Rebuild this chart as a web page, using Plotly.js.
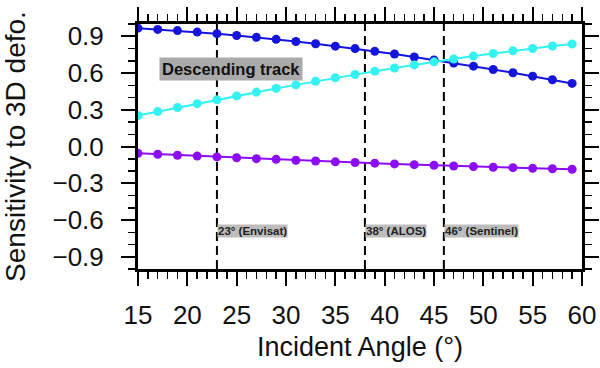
<!DOCTYPE html>
<html>
<head>
<meta charset="utf-8">
<script src="https://cdn.plot.ly/plotly-3.0.1.min.js"></script>
<style>html,body{margin:0;padding:0;background:#fff}#chart{width:600px;height:368px}</style>
</head>
<body>
<div id="chart"></div>
<script>
// Incident angles (degrees)
const angles = [15,17,19,21,23,25,27,29,31,33,35,37,39,41,43,45,47,49,51,53,55,57,59];
// Sensitivity series
const upValues = [0.966,0.956,0.946,0.934,0.921,0.906,0.891,0.875,0.857,0.839,0.819,0.799,0.777,0.755,0.731,0.707,0.682,0.656,0.629,0.602,0.574,0.545,0.515];
const eastValues = [0.253,0.285,0.318,0.350,0.382,0.413,0.444,0.474,0.503,0.532,0.561,0.588,0.615,0.641,0.666,0.691,0.714,0.738,0.759,0.781,0.800,0.820,0.837];
const northValues = [-0.056,-0.063,-0.071,-0.078,-0.085,-0.092,-0.099,-0.105,-0.112,-0.118,-0.125,-0.131,-0.136,-0.142,-0.148,-0.153,-0.159,-0.164,-0.169,-0.173,-0.178,-0.182,-0.186];
// Satellite reference angles
const satAngles = [23, 38, 46];
const satNames = ['Envisat', 'ALOS', 'Sentinel'];
const trackLabel = 'Descending track';

const font = 'Liberation Sans, Arial, Helvetica, sans-serif';
const xRange = [15, 60], yRange = [-1, 1], xMajor = 5, xMinorStep = 1;

function series(y, color) {
  return {
    x: angles, y: y, type: 'scatter', mode: 'lines+markers',
    line: {color: color, width: 2},
    marker: {color: color, size: 9},
    hoverinfo: 'none', showlegend: false
  };
}

// top-edge tick marks (axis decoration), drawn as unclipped vertical-line markers
const plotHeightPx = 245;
const pxPerUnit = plotHeightPx / (yRange[1] - yRange[0]);
const majorX = [], minorX = [];
for (let v = xRange[0]; v <= xRange[1]; v += xMinorStep) {
  ((v - xRange[0]) % xMajor === 0 ? majorX : minorX).push(v);
}
function topTicks(xs, len, width) {
  return {
    x: xs, y: xs.map(() => yRange[1] + (1.5 + len / 2) / pxPerUnit),
    type: 'scatter', mode: 'markers', cliponaxis: false,
    marker: {symbol: 'line-ns', size: len, color: '#000', line: {color: '#000', width: width}},
    hoverinfo: 'none', showlegend: false
  };
}

const data = [
  series(upValues, '#1414dc'),
  series(eastValues, '#33f2f2'),
  series(northValues, '#8c0cf5'),
  topTicks(majorX, 14, 2),
  topTicks(minorX, 7, 1.5)
];

const shapes = satAngles.map(a => ({
  type: 'line', xref: 'x', yref: 'paper', x0: a, x1: a, y0: 0, y1: 1,
  line: {color: '#000', width: 2, dash: '9px,5px'}, layer: 'below'
}));

const annotations = satAngles.map((a, i) => ({
  x: a, y: -0.686, xref: 'x', yref: 'y', xanchor: 'left', yanchor: 'middle',
  text: '<b>' + a + '° (' + satNames[i] + ')</b>', showarrow: false,
  font: {family: font, size: 11.5, color: '#222'},
  bgcolor: '#bdbdbd', borderpad: 0
}));
annotations.push({
  x: 24.4, y: 0.635, xref: 'x', yref: 'y', xanchor: 'center', yanchor: 'middle',
  text: '<b>' + trackLabel + '</b>', showarrow: false,
  font: {family: font, size: 16.5, color: '#111'},
  bgcolor: '#aaaaaa', borderpad: 2
});

const axisCommon = {
  showline: true, linecolor: '#000', linewidth: 3,
  ticks: 'outside', ticklen: 14, tickwidth: 2, tickcolor: '#000',
  showgrid: false, zeroline: false,
  tickfont: {family: font, size: 26, color: '#111'}
};

const layout = {
  width: 600, height: 368,
  margin: {l: 138, r: 18, t: 24, b: 99},
  paper_bgcolor: '#fff', plot_bgcolor: '#fff',
  font: {family: font},
  xaxis: Object.assign({}, axisCommon, {
    range: xRange, dtick: xMajor, tick0: xRange[0], mirror: 'allticks',
    ticklabelstandoff: 7,
    minor: {dtick: xMinorStep, ticks: 'outside', ticklen: 7, tickwidth: 1.5, tickcolor: '#000'},
    title: {text: 'Incident Angle (°)', font: {family: font, size: 27, color: '#111'}, standoff: 8}
  }),
  yaxis: Object.assign({}, axisCommon, {
    range: yRange, dtick: 0.3, tick0: 0, tickformat: '.1f', mirror: 'allticks',
    ticklabelstandoff: 12,
    minor: {dtick: 0.1, ticks: 'outside', ticklen: 7, tickwidth: 1.5, tickcolor: '#000'},
    title: {text: 'Sensitivity to 3D defo.', font: {family: font, size: 28, color: '#111'}, standoff: 20}
  }),
  shapes: shapes,
  annotations: annotations
};

Plotly.newPlot('chart', data, layout, {staticPlot: true, displayModeBar: false});
</script>
</body>
</html>
